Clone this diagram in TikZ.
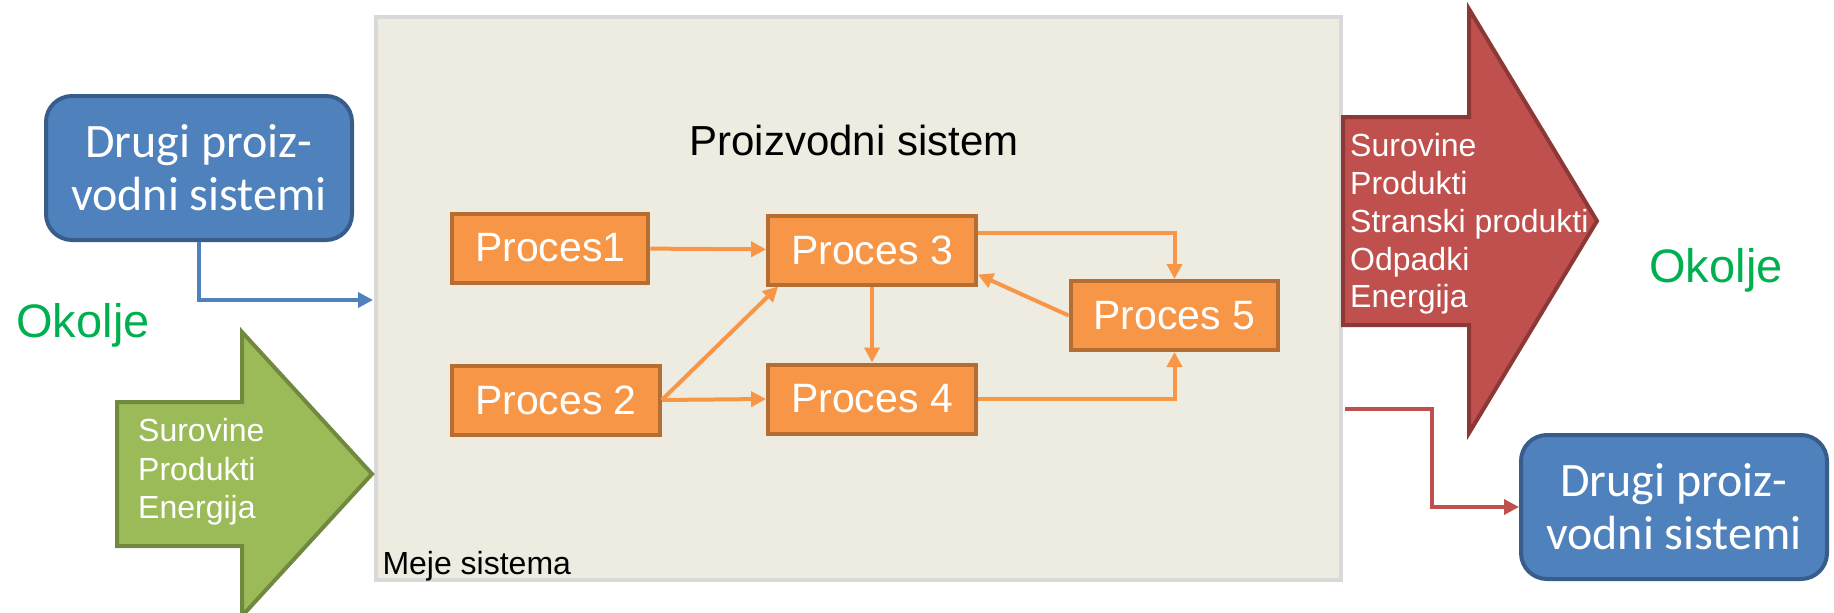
\documentclass[tikz,border=0pt]{standalone}
\usepackage{fontspec}
\setmainfont{Liberation Sans}
\newfontfamily\calibrifont{Carlito}
\usepackage{xcolor}
\usepackage{tikz}
\usetikzlibrary{arrows.meta}
\definecolor{sysfill}{HTML}{EEECE1}
\definecolor{sysline}{HTML}{D9D9D9}
\definecolor{procfill}{HTML}{F79646}
\definecolor{procline}{HTML}{B66D31}
\definecolor{bluefill}{HTML}{4F81BD}
\definecolor{blueline}{HTML}{385D8A}
\definecolor{greenfill}{HTML}{9BBB59}
\definecolor{greenline}{HTML}{71893F}
\definecolor{redfill}{HTML}{C0504D}
\definecolor{redline}{HTML}{8C3836}
\definecolor{okolje}{HTML}{00B050}

\begin{document}
\begin{tikzpicture}[x=1pt, y=-1pt,
    sysbox/.style={draw=sysline, fill=sysfill, line width=4pt, minimum width=965pt, minimum height=563pt},
    proc/.style={draw=procline, fill=procfill, line width=4pt, text=white, minimum height=69pt,
      inner xsep=23pt, font=\fontsize{41}{49}\selectfont},
    flow/.style={draw=procfill, line width=4pt, -{Triangle[length=15pt,width=15pt]}},
    link/.style={line width=3.5pt, -{Triangle[length=15pt,width=15pt]}},
    drugi/.style={draw=blueline, fill=bluefill, line width=4pt, rounded corners=26pt, text=white,
      minimum width=306pt, minimum height=144pt, align=center, font=\calibrifont\fontsize{48}{53}\selectfont},
    okolje/.style={text=okolje, font=\fontsize{47}{56}\selectfont},
    flowtext/.style={text=white, align=left, inner sep=0pt, anchor=west}]
      \useasboundingbox (0,0) rectangle (1834,613);
      \pgfmathsetmacro{\gmid}{474} % middle of the green arrow
      \pgfmathsetmacro{\rmid}{221} % middle of the red arrow
      % System boundary
      \node[sysbox] (sys) at (858.5,298.5) {};
      \node[anchor=base west, font=\fontsize{32}{38}\selectfont] (meje) at (379,574) {Meje sistema};
      \node[font=\fontsize{42}{50}\selectfont] (title) at (854,140) {Proizvodni sistem};
      % Processes
      \node[proc, anchor=west] (p1) at (450,248) {Proces1};
      \node[proc] (p3) at (872,250) {Proces 3};
      \node[proc, anchor=west] (p2) at (450,400) {Proces 2};
      \node[proc] (p4) at (872,399) {Proces 4};
      \node[proc] (p5) at (1174.5,315.5) {Proces 5};
      % Flows between processes
      \draw[flow] (p1) -- (p3);
      \draw[flow] (p2.east) -- (p4.west);
      \draw[flow] (p2.east) -- ([xshift=12pt]p3.south west);
      \draw[flow] (p3) -- (p4);
      \draw[flow] ([yshift=17pt]p3.east) -| (p5.north);
      \draw[flow] (p4.east) -| (p5.south);
      \draw[flow] (p5.west) -- ([yshift=12pt]p3.south east);
      % Inputs
      \node[drugi] (drugiA) at (199,168) {Drugi proiz-\\vodni sistemi};
      \coordinate (inA) at (373,300);
      \draw[link, bluefill] (drugiA.south) |- (inA);
      \node[okolje] (okoljeA) at (83,325) {Okolje};
      \filldraw[fill=greenfill, draw=greenline, line width=4pt]
        (117,\gmid-72) -- (242,\gmid-72) -- (242,\gmid-142) -- (372,\gmid)
        -- (242,\gmid+142) -- (242,\gmid+72) -- (117,\gmid+72) -- cycle;
      \node[flowtext, font=\fontsize{32}{38.5}\selectfont] (inputs) at (138,\gmid-2) {Surovine\\Produkti\\Energija};
      % Outputs
      \filldraw[fill=redfill, draw=redline, line width=4pt]
        (1343,\rmid-104) -- (1469,\rmid-104) -- (1469,\rmid-212) -- (1597,\rmid)
        -- (1469,\rmid+212) -- (1469,\rmid+104) -- (1343,\rmid+104) -- cycle;
      \node[flowtext, font=\fontsize{32}{37.8}\selectfont] (outputs) at (1350,\rmid+3) {Surovine\\Produkti\\Stranski produkti\\Odpadki\\Energija};
      \node[okolje] (okoljeB) at (1716,270) {Okolje};
      \node[drugi] (drugiB) at (1674,507) {Drugi proiz-\\vodni sistemi};
      \coordinate (outB) at (1345,409);
      \draw[link, redfill] (outB) -- ++(87,0) |- (drugiB.west);
\end{tikzpicture}
\end{document}
